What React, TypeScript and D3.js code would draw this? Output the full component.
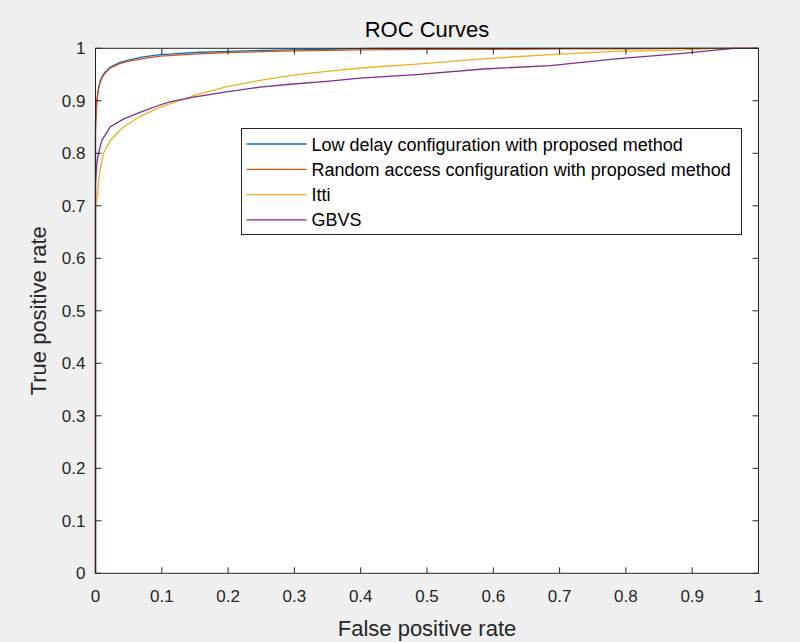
import React from "react";
import * as d3 from "d3";

const xTicks = [0, 0.1, 0.2, 0.3, 0.4, 0.5, 0.6, 0.7, 0.8, 0.9, 1];
const yTicks = [0, 0.1, 0.2, 0.3, 0.4, 0.5, 0.6, 0.7, 0.8, 0.9, 1];

const seriesNames = [
  "Low delay configuration with proposed method",
  "Random access configuration with proposed method",
  "Itti",
  "GBVS",
];
const seriesColors = ["#0072BD", "#D95319", "#EDB120", "#7E2F8E"];

const lowDelayX = [0, 0, 0.002, 0.004, 0.007, 0.01, 0.014, 0.022, 0.03, 0.037, 0.052, 0.07, 0.097, 0.112, 0.15, 0.198, 0.25, 0.29, 0.35, 0.417, 0.6, 0.8, 1];
const lowDelayY = [0, 0.86, 0.9, 0.92, 0.938, 0.946, 0.954, 0.964, 0.969, 0.973, 0.978, 0.983, 0.988, 0.989, 0.992, 0.994, 0.996, 0.997, 0.998, 1, 1, 1, 1];

const randomX = [0, 0, 0.002, 0.004, 0.007, 0.01, 0.014, 0.022, 0.03, 0.037, 0.052, 0.07, 0.097, 0.112, 0.148, 0.198, 0.3, 0.4, 0.5, 0.6, 0.7, 0.8, 0.9, 1];
const randomY = [0, 0.84, 0.9, 0.918, 0.935, 0.944, 0.952, 0.962, 0.967, 0.971, 0.976, 0.98, 0.985, 0.986, 0.989, 0.992, 0.995, 0.997, 0.998, 0.998, 0.999, 0.999, 1, 1];

const ittiX = [0, 0, 0.003, 0.0057, 0.0118, 0.022, 0.042, 0.067, 0.097, 0.112, 0.148, 0.198, 0.248, 0.298, 0.349, 0.399, 0.484, 0.585, 0.686, 0.785, 0.886, 0.927, 1];
const ittiY = [0, 0.7, 0.72, 0.76, 0.799, 0.824, 0.85, 0.87, 0.888, 0.894, 0.91, 0.927, 0.939, 0.949, 0.956, 0.9625, 0.97, 0.98, 0.988, 0.994, 0.997, 0.9995, 1];

const gbvsX = [0, 0, 0.002, 0.0043, 0.0093, 0.022, 0.042, 0.067, 0.097, 0.112, 0.148, 0.198, 0.248, 0.298, 0.349, 0.399, 0.484, 0.585, 0.686, 0.785, 0.886, 0.962, 1];
const gbvsY = [0, 0.74, 0.78, 0.799, 0.824, 0.85, 0.865, 0.878, 0.892, 0.898, 0.907, 0.917, 0.926, 0.932, 0.937, 0.943, 0.95, 0.9606, 0.967, 0.98, 0.9905, 1, 1];

const seriesX = [lowDelayX, randomX, ittiX, gbvsX];
const seriesY = [lowDelayY, randomY, ittiY, gbvsY];

const W = 800;
const H = 642;
const left = 95.5;
const right = 758.5;
const top = 48.3;
const bottom = 573.3;
const FONT = "'Liberation Sans', Arial, Helvetica, sans-serif";
const AX = "#262626";

export default function App() {
  const x = d3.scaleLinear().domain([0, 1]).range([left, right]);
  const y = d3.scaleLinear().domain([0, 1]).range([bottom, top]);
  const line = d3
    .line<[number, number]>()
    .x((d) => x(d[0]))
    .y((d) => y(d[1]));
  const tickLen = 6;

  const legX = 241.5;
  const legY = 128.5;
  const legW = 500;
  const legH = 106;
  const rowH = 25.3;

  return (
    <svg
      width={W}
      height={H}
      style={{ position: "absolute", left: 0, top: 0 }}
      fontFamily={FONT}
    >
      <rect x={0} y={0} width={W} height={H} fill="#f0f0f0" />
      <rect x={left} y={top} width={right - left} height={bottom - top} fill="#ffffff" />

      {seriesX.map((xs, i) => (
        <path
          key={i}
          d={line(xs.map((v, j) => [v, seriesY[i][j]] as [number, number])) || ""}
          fill="none"
          stroke={seriesColors[i]}
          strokeWidth={1.3}
        />
      ))}

      {/* axes box */}
      <rect x={left} y={top} width={right - left} height={bottom - top} fill="none" stroke={AX} strokeWidth={1} />
      {xTicks.map((t) => (
        <g key={"x" + t}>
          <line x1={x(t)} x2={x(t)} y1={bottom} y2={bottom - tickLen} stroke={AX} />
          <line x1={x(t)} x2={x(t)} y1={top} y2={top + tickLen} stroke={AX} />
          <text x={x(t)} y={bottom + 29} textAnchor="middle" fontSize={17} fill={AX}>
            {String(t)}
          </text>
        </g>
      ))}
      {yTicks.map((t) => (
        <g key={"y" + t}>
          <line x1={left} x2={left + tickLen} y1={y(t)} y2={y(t)} stroke={AX} />
          <line x1={right} x2={right - tickLen} y1={y(t)} y2={y(t)} stroke={AX} />
          <text x={left - 10} y={y(t) + 6} textAnchor="end" fontSize={17} fill={AX}>
            {String(t)}
          </text>
        </g>
      ))}

      <text x={(left + right) / 2} y={37} textAnchor="middle" fontSize={22} fill="#000">
        ROC Curves
      </text>
      <text x={(left + right) / 2} y={636} textAnchor="middle" fontSize={22} fill={AX}>
        False positive rate
      </text>
      <text
        transform={`translate(46, ${(top + bottom) / 2}) rotate(-90)`}
        textAnchor="middle"
        fontSize={22}
        fill={AX}
      >
        True positive rate
      </text>

      {/* legend */}
      <rect x={legX} y={legY} width={legW} height={legH} fill="#ffffff" stroke={AX} strokeWidth={1} />
      {seriesNames.map((n, i) => {
        const cy = legY + 15.5 + i * rowH;
        return (
          <g key={n}>
            <line x1={legX + 5} x2={legX + 65} y1={cy} y2={cy} stroke={seriesColors[i]} strokeWidth={1.3} />
            <text x={legX + 70} y={cy + 6.5} fontSize={18} fill="#000">
              {n}
            </text>
          </g>
        );
      })}
    </svg>
  );
}
